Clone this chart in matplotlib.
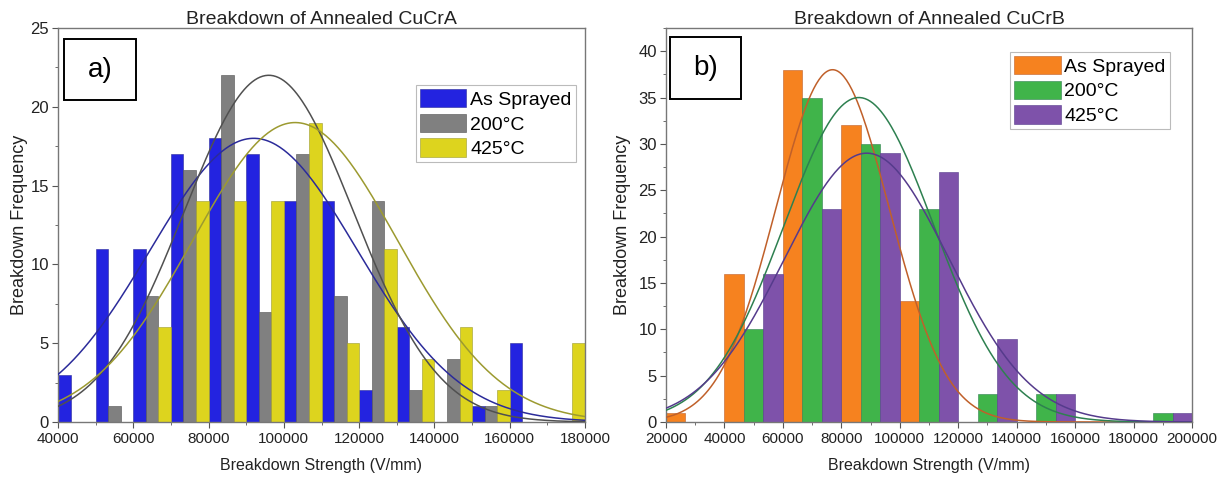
import matplotlib.pyplot as plt
import numpy as np
from matplotlib.ticker import MultipleLocator
from matplotlib.patches import Rectangle

plt.rcParams['font.family'] = ['Liberation Sans', 'DejaVu Sans']

# CuCrA: bin starts (V/mm) and counts per condition
bins_a = [40000, 50000, 60000, 70000, 80000, 90000, 100000, 110000, 120000, 130000, 140000, 150000, 160000, 170000]
sprayed_a = [3, 11, 11, 17, 18, 17, 14, 14, 2, 6, 0, 1, 5, 0]
t200_a = [0, 1, 8, 16, 22, 7, 17, 8, 14, 2, 4, 1, 0, 0]
t425_a = [0, 0, 6, 14, 14, 14, 19, 5, 11, 4, 6, 2, 0, 5]
# normal fits: (peak, centre, sigma)
fit_a = [(18, 92000, 27500), (22, 96000, 22500), (19, 103000, 27200)]

# CuCrB
bins_b = [20000, 40000, 60000, 80000, 100000, 120000, 140000, 160000, 180000]
sprayed_b = [1, 16, 38, 32, 13, 0, 0, 0, 0]
t200_b = [0, 10, 35, 30, 23, 3, 3, 0, 1]
t425_b = [0, 16, 23, 29, 27, 9, 3, 0, 1]
fit_b = [(38, 77000, 19400), (35, 86000, 25600), (29, 88700, 28200)]

labels = ["As Sprayed", "200°C", "425°C"]
colors_a = ["#2323e0", "#808080", "#ddd41e"]
lines_a = ["#2b2b9a", "#505050", "#9c9a30"]
colors_b = ["#f6821f", "#40b44a", "#7e52aa"]
lines_b = ["#c0602a", "#2e8050", "#553b8c"]


def panel(ax, bins, series, fits, width, colors, lcolors, xlim, ylim, title, tag, tag_box, leg_loc, ylab_x):
    bins = np.array(bins)
    sub = width / 3
    for k, (vals, c, lab) in enumerate(zip(series, colors, labels)):
        ax.bar(bins + k * sub, vals, sub, align='edge', color=c, edgecolor=lcolors[k],
               linewidth=0.4, label=lab, zorder=2)
    xs = np.linspace(xlim[0], xlim[1], 400)
    for (a, mu, sd), lc in zip(fits, lcolors):
        ax.plot(xs, a * np.exp(-(xs - mu) ** 2 / (2 * sd ** 2)), color=lc, lw=1.1, zorder=3)
    ax.set_xlim(xlim)
    ax.set_ylim(ylim)
    ax.xaxis.set_major_locator(MultipleLocator(20000))
    ax.xaxis.set_minor_locator(MultipleLocator(10000))
    ax.yaxis.set_major_locator(MultipleLocator(5))
    ax.yaxis.set_minor_locator(MultipleLocator(2.5))
    ax.tick_params(which='both', direction='out', colors='#555555', labelcolor='#222222')
    ax.tick_params(axis='x', labelsize=11)
    ax.tick_params(axis='y', labelsize=12, pad=2.5)
    ax.tick_params(which='major', length=4)
    ax.tick_params(which='minor', length=2.5)
    for s in ax.spines.values():
        s.set_color('#777777')
        s.set_linewidth(1.0)
    ax.set_xlabel("Breakdown Strength (V/mm)", fontsize=11.5, color='#222222', labelpad=8)
    ax.set_ylabel("Breakdown Frequency", fontsize=13, color='#222222')
    ax.yaxis.set_label_coords(ylab_x, 0.5)
    ax.set_title(title, fontsize=14, color='#222222', pad=3)
    x0, y0, w, h = tag_box
    ax.add_patch(Rectangle((x0, y0), w, h, transform=ax.transAxes, facecolor='white',
                           edgecolor='black', lw=1.4, zorder=5))
    ax.text(x0 + w / 2, y0 + h / 2, tag, transform=ax.transAxes, fontsize=20,
            ha='center', va='center', zorder=6)
    leg = ax.legend(loc='upper left', bbox_to_anchor=leg_loc, fontsize=14, frameon=True, fancybox=False,
                    handlelength=2.4, handleheight=1.08, labelspacing=0.25, handletextpad=0.2,
                    borderpad=0.2, borderaxespad=0)
    leg.get_frame().set_edgecolor('#aaaaaa')
    leg.get_frame().set_linewidth(0.8)


fig = plt.figure(figsize=(12.23, 4.79), dpi=100)
ax1 = fig.add_axes([58 / 1223, 1 - 422 / 479, 527 / 1223, 394 / 479])
ax2 = fig.add_axes([666 / 1223, 1 - 422 / 479, 526 / 1223, 394 / 479])

panel(ax1, bins_a, [sprayed_a, t200_a, t425_a], fit_a, 10000, colors_a, lines_a,
      (40000, 180000), (0, 25), "Breakdown of Annealed CuCrA", "a)",
      (0.011, 0.817, 0.137, 0.155), (0.679, 0.855), -0.057)
panel(ax2, bins_b, [sprayed_b, t200_b, t425_b], fit_b, 20000, colors_b, lines_b,
      (20000, 200000), (0, 42.5), "Breakdown of Annealed CuCrB", "b)",
      (0.0076, 0.82, 0.135, 0.157), (0.654, 0.939), -0.066)

fig.savefig("out.png", dpi=100)
